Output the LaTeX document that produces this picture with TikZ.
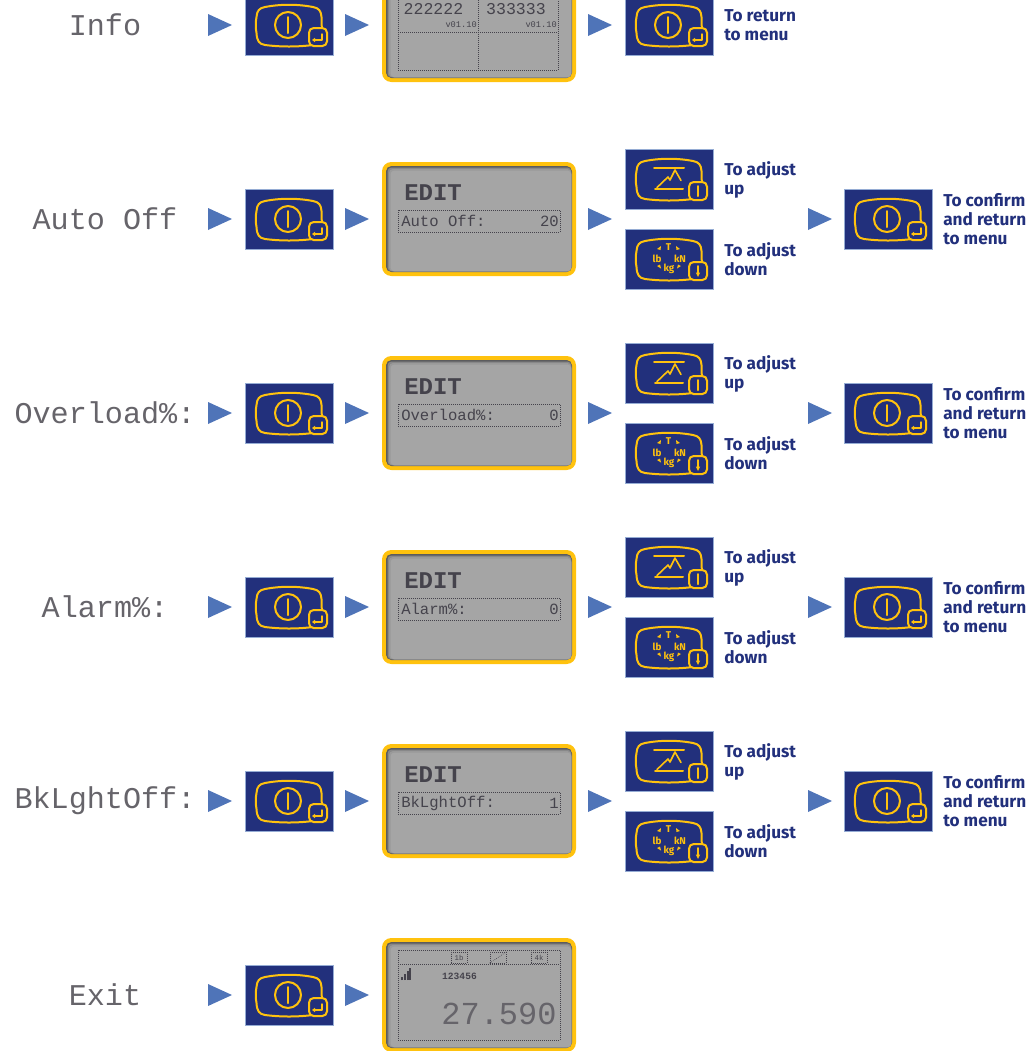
\documentclass[tikz,border=0pt]{standalone}
\usepackage{fontspec}
\setsansfont{Fira Sans}
\newfontfamily\lcdfont{Liberation Mono}
\usetikzlibrary{positioning,calc}
\definecolor{keynavy}{HTML}{22307C}
\definecolor{keyyellow}{HTML}{FFC20E}
\definecolor{flowblue}{HTML}{4F74B8}
\definecolor{lcdgray}{HTML}{A5A5A5}
\definecolor{lcdedge}{HTML}{5C5C5E}
\definecolor{lcdink}{HTML}{45434C}
\definecolor{menuink}{HTML}{66646A}
\tikzset{
  keybox/.style={fill=keynavy, draw=flowblue!60, line width=0.4pt, minimum width=66pt,
    minimum height=45pt, inner sep=0pt},
  keyline/.style={draw=keyyellow, line width=1.5pt, line cap=round, line join=round},
  subkey/.style={draw=keyyellow, fill=keynavy, line width=1.5pt, rounded corners=3.5pt},
  keytxt/.style={text=keyyellow, font=\sffamily\bfseries\fontsize{7.4}{8}\selectfont, inner sep=0pt},
  menulab/.style={font=\lcdfont\fontsize{22.6}{23}\selectfont, text=menuink, inner sep=0pt},
  note/.style={font=\sffamily\bfseries\fontsize{12.9}{14.25}\selectfont, text=keynavy,
    align=left, anchor=west, inner sep=0pt},
  lcdsmall/.style={font=\lcdfont\fontsize{11.7}{12}\selectfont, text=lcdink, inner sep=0pt},
  lcdbig/.style={font=\lcdfont\bfseries\fontsize{18}{18}\selectfont, text=lcdink, inner sep=0pt},
  lcdtiny/.style={font=\lcdfont\fontsize{6.5}{7}\selectfont, text=lcdink, inner sep=0pt},
  lcdline/.style={draw=lcdink, line width=0.5pt, densely dotted},
  % the outline shared by the three keys
  keyshape/.pic={
    \node[keybox] (box) at (0,0) {};
    \draw[keyline] (-24,-18) .. controls (-8,-21) and (8,-21) .. (24,-18)
      .. controls (30,-17) and (32,-14) .. (32.5,-8) -- (33,10)
      .. controls (33,16) and (30,19) .. (24,20)
      .. controls (8,22) and (-8,22) .. (-24,20)
      .. controls (-30,19) and (-32,16) .. (-32.5,8)
      .. controls (-33.5,3) and (-33.5,-3) .. (-32.5,-8)
      .. controls (-32,-14) and (-30,-17) .. (-24,-18) -- cycle;
    \draw[subkey] (20,3) rectangle (38,21);
  },
  powerkey/.pic={
    \pic {keyshape};
    \draw[keyline] (-1,0) circle (13);
    \draw[keyline] (-1,-8) -- (-1,8);
    \draw[keyline, line width=1.1pt] (33,9) -- (33,15) -- (24.5,15);
    \fill[keyyellow] (23,15) -- (26,12.8) -- (26,17.2) -- cycle;
  },
  upkey/.pic={
    \pic {keyshape};
    \draw[keyline] (29,7) -- (29,17);
    \draw[keyline] (-15,-11) -- (15,-11);
    \draw[keyline] (-14,9.5) -- (14,9.5);
    \draw[keyline, line width=1.2pt] (-12,8.5) -- (-1,-2) -- (1,1) -- (6,-9) -- (12,1.5);
  },
  downkey/.pic={
    \pic {keyshape};
    \draw[keyline] (29,7) -- (29,14);
    \fill[keyyellow] (29,18) -- (26.8,13.5) -- (31.2,13.5) -- cycle;
    \node[keytxt] (T) at (-0.5,-11.5) {T};
    \node[keytxt] (lb) at (-12,-0.5) {lb};
    \node[keytxt] (kN) at (11,-0.5) {kN};
    \node[keytxt] (kg) at (0,9.5) {kg};
    \fill[keyyellow] (-12,-10) -- (-8,-13) -- (-8.5,-9) -- cycle;
    \fill[keyyellow] (11,-10) -- (7,-13) -- (7.5,-9) -- cycle;
    \fill[keyyellow] (-12,7) -- (-8,9.5) -- (-9,5.5) -- cycle;
    \fill[keyyellow] (12,7) -- (8,9.5) -- (9,5.5) -- cycle;
  },
  flowmark/.pic={
    \fill[flowblue] (0,-11) -- (24,0) -- (0,11) -- cycle;
  },
  lcdframe/.pic={
    \fill[keyyellow, rounded corners=7pt] (-97,-57) rectangle (97,57);
    \fill[lcdedge, rounded corners=4pt] (-93,-53) rectangle (93,53);
    \fill[lcdgray!60!lcdedge, rounded corners=3pt] (-91.5,-51.5) rectangle (92.3,52.3);
    \fill[lcdgray!85!lcdedge, rounded corners=3pt] (-90,-50) rectangle (92.3,52.3);
    \fill[lcdgray, rounded corners=3pt] (-88.5,-48.5) rectangle (92.3,52.3);
  },
}
\begin{document}
\begin{tikzpicture}[x=0.75pt,y=-0.75pt]
  \useasboundingbox (0,0) rectangle (1029,1051);
  % info row, cut by the page
  \node[menulab] (menuinfo) at (105,25) {Info};
  \pic at (208,25) {flowmark};
  \pic (pwrinfo) at (289,25) {powerkey};
  \pic at (345,25) {flowmark};
  \pic (lcdinfo) at (479,25) {lcdframe};
  \draw[lcdline] (398,-2) rectangle (558,70);
  \draw[lcdline] (398,32) -- (558,32);
  \draw[lcdline] (478,-2) -- (478,70);
  \node[lcdsmall, font=\lcdfont\fontsize{12.4}{13}\selectfont] (valb) at (433.5,9) {222222};
  \node[lcdsmall, font=\lcdfont\fontsize{12.4}{13}\selectfont] (valc) at (516,9) {333333};
  \node[lcdtiny, anchor=east] (verb) at (477,25) {v01.10};
  \node[lcdtiny, anchor=east] (verc) at (557,25) {v01.10};
  \pic at (588,25) {flowmark};
  \pic (retinfo) at (669,25) {powerkey};
  \node[note] (retnote) at (724,25) {To return\\to menu};
  % the four edit rows
  \foreach \n/\rowy/\ttl/\fld/\val in {A/219/Auto Off/Auto Off:/20,
                                      B/413/Overload\%:/Overload\%:/0,
                                      C/607/Alarm\%:/Alarm\%:/0,
                                      D/801/BkLghtOff:/BkLghtOff:/1} {
    \begin{scope}[shift={(0,\rowy)}]
      \node[menulab] (menu\n) at (105,0) {\ttl};
      \pic at (208,0) {flowmark};
      \pic (pwr\n) at (289,0) {powerkey};
      \pic at (345,0) {flowmark};
      \pic (lcd\n) at (479,0) {lcdframe};
      \node[lcdbig, anchor=west] (edit\n) at (404,-26) {EDIT};
      \draw[lcdline] (398,-9) rectangle (560,13);
      \node[lcdsmall, anchor=west] (fld\n) at (401,2) {\fld};
      \node[lcdsmall, anchor=east] (val\n) at (559,2) {\val};
      \pic at (588,0) {flowmark};
      \pic (up\n) at (669,-40) {upkey};
      \pic (down\n) at (669,40) {downkey};
      \node[note] (upnote\n) at (724,-39) {To adjust\\up};
      \node[note] (downnote\n) at (724,40) {To adjust\\down};
      \pic at (808,0) {flowmark};
      \pic (ok\n) at (888,0) {powerkey};
      \node[note] (oknote\n) at (943,0) {To confirm\\and return\\to menu};
    \end{scope}
  }
  % exit row, back on the weight screen
  \node[menulab] (menuexit) at (105,995) {Exit};
  \pic at (208,995) {flowmark};
  \pic (pwrexit) at (289,995) {powerkey};
  \pic at (345,995) {flowmark};
  \pic (lcdexit) at (479,995) {lcdframe};
  \draw[lcdline] (398,950) rectangle (560,1040);
  \draw[lcdline] (398,964) -- (560,964);
  \foreach \n/\x/\icon in {a/459/1b,b/498/,c/539/4k} {
    \node[lcdline, draw, minimum width=12pt, minimum height=8pt, inner sep=0pt,
      font=\lcdfont\fontsize{5.5}{6}\selectfont, text=lcdink] (icon\n) at (\x,957.5) {\icon};
  }
  \draw[lcdline] (iconb.south west) -- (iconb.north east);
  \foreach \x/\h in {402/3,405/6,408/9,410/12} {
    \draw[lcdink, line width=0.8pt] (\x,980) -- ++(0,-\h);
  }
  \node[lcdtiny, font=\lcdfont\bfseries\fontsize{7.2}{8}\selectfont] (idnum) at (459.5,976) {123456};
  \node[lcdsmall, font=\lcdfont\fontsize{24}{24}\selectfont, text=menuink] (weight) at (499,1014) {27.590};
\end{tikzpicture}
\end{document}
